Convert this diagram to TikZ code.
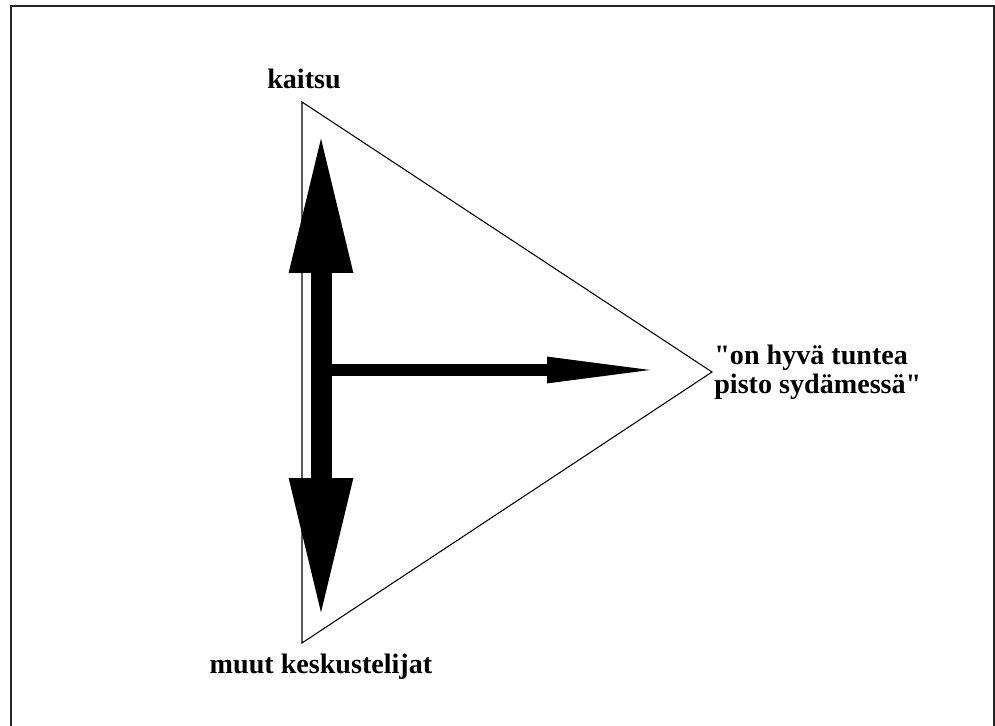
\documentclass[tikz,border=0pt]{standalone}
\usepackage{fontspec}
\newfontfamily\labelfont{Liberation Serif}
\usetikzlibrary{arrows.meta}
\tikzset{
  label text/.style={font=\labelfont\bfseries\fontsize{16}{16.5}\selectfont,inner sep=0pt},
  thin edge/.style={line width=0.6pt,black},
  frame edge/.style={line width=1.7pt,black!85},
  fat arrow/.style={line width=0.42cm,{Triangle[length=2.84cm,width=1.16cm]}-{Triangle[length=2.84cm,width=1.16cm]}},
  slim arrow/.style={line width=0.24cm,-{Triangle[length=2.38cm,width=0.46cm]}}
}
\begin{document}
\begin{tikzpicture}[x=0.02cm,y=-0.02cm]
  \useasboundingbox (0,0) rectangle (995,726);
  % frame, open at the bottom
  \draw[frame edge] (11,726)--(11,6)--(994,6)--(994,726);
  % corners of the triangle
  \coordinate (top) at (302,102);
  \coordinate (bot) at (302,643);
  \coordinate (tip) at (712,372);
  \draw[thin edge] (top)--(tip)--(bot)--cycle;
  % labels
  \node[label text,anchor=base] (kaitsu) at (304,89) {kaitsu};
  \node[label text,anchor=base] (muut) at (321,673) {muut keskustelijat};
  \node[label text,anchor=north west,align=left] (pisto) at (714,345)
    {"on hyvä tuntea\\pisto sydämessä"};
  % arrows
  \coordinate (up) at (321,131);
  \coordinate (down) at (321,620);
  \coordinate (mid) at (321,370);
  \coordinate (right) at (666,370);
  \draw[fat arrow] (down)--(up);
  \draw[slim arrow] (mid)--(right);
\end{tikzpicture}
\end{document}
